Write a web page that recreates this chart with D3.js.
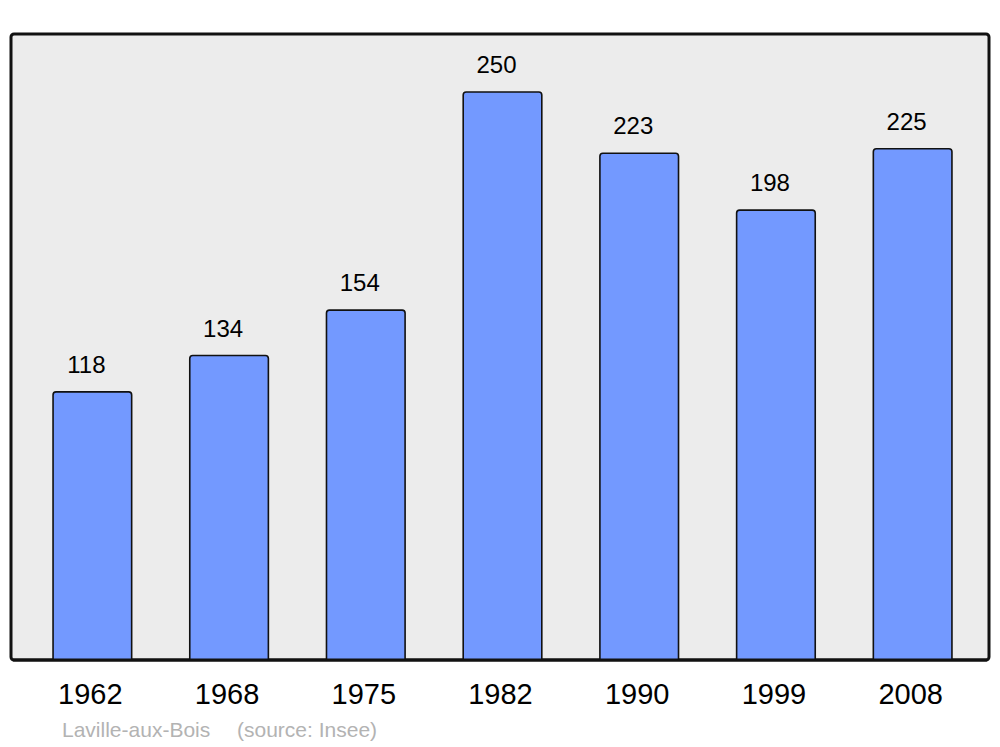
<!DOCTYPE html>
<head>
  <meta charset="utf-8">
  <script src="https://d3js.org/d3.v7.min.js"></script>
  <style>
    body { margin:0; background:#fff; }
    text { font-family: "Liberation Sans", Arial, sans-serif; }
  </style>
</head>
<body>
<script>
  // data
  var years = ["1962", "1968", "1975", "1982", "1990", "1999", "2008"];
  var population = [118, 134, 154, 250, 223, 198, 225];
  var town = "Laville-aux-Bois";
  var source = "(source: Insee)";

  var width = 1000, height = 747;
  var frame = {left: 11, top: 34, right: 989, bottom: 660};

  var svg = d3.select("body").append("svg")
    .attr("width", width)
    .attr("height", height);

  // plot frame
  svg.append("rect")
    .attr("x", frame.left)
    .attr("y", frame.top)
    .attr("width", frame.right - frame.left)
    .attr("height", frame.bottom - frame.top)
    .attr("rx", 3)
    .attr("fill", "#ececec")
    .attr("stroke", "#111")
    .attr("stroke-width", 3);

  var x = d3.scaleBand()
    .domain(years)
    .range([24, 981])
    .paddingInner(0.425)
    .paddingOuter(0.2125);

  var y = d3.scaleLinear()
    .domain([0, 275.5])
    .range([frame.bottom, frame.top]);

  var data = years.map(function(d, i) { return {year: d, value: population[i]}; });

  // bars with rounded top corners
  function barPath(d) {
    var x0 = x(d.year), x1 = x0 + x.bandwidth(), y0 = y(d.value), y1 = y(0), r = 3;
    return "M" + x0 + "," + y1 +
      "V" + (y0 + r) + "Q" + x0 + "," + y0 + " " + (x0 + r) + "," + y0 +
      "H" + (x1 - r) + "Q" + x1 + "," + y0 + " " + x1 + "," + (y0 + r) +
      "V" + y1;
  }

  svg.selectAll("path.bar").data(data).enter()
    .append("path")
    .attr("class", "bar")
    .attr("d", barPath)
    .attr("fill", "#7399ff")
    .attr("stroke", "#111")
    .attr("stroke-width", 1.6);

  // redraw the bottom edge of the frame over the bars
  svg.append("line")
    .attr("x1", frame.left + 2).attr("x2", frame.right - 2)
    .attr("y1", frame.bottom).attr("y2", frame.bottom)
    .attr("stroke", "#111")
    .attr("stroke-width", 3);

  // value labels
  svg.selectAll("text.value").data(data).enter()
    .append("text")
    .attr("class", "value")
    .attr("x", function(d) { return x(d.year) + x.bandwidth() / 2 - 6; })
    .attr("y", function(d) { return y(d.value) - 19; })
    .attr("text-anchor", "middle")
    .style("font-size", "24px")
    .attr("fill", "#000")
    .text(function(d) { return d.value; });

  // year labels
  svg.selectAll("text.year").data(data).enter()
    .append("text")
    .attr("class", "year")
    .attr("x", function(d) { return x(d.year) + x.bandwidth() / 2 - 2; })
    .attr("y", 704)
    .attr("text-anchor", "middle")
    .style("font-size", "29px")
    .attr("fill", "#000")
    .text(function(d) { return d.year; });

  // footer
  svg.append("text")
    .attr("x", 62)
    .attr("y", 737)
    .style("font-size", "21px")
    .attr("fill", "#b3b3b3")
    .text(town);

  svg.append("text")
    .attr("x", 237)
    .attr("y", 737)
    .style("font-size", "21px")
    .attr("fill", "#b3b3b3")
    .text(source);
</script>
</body>
